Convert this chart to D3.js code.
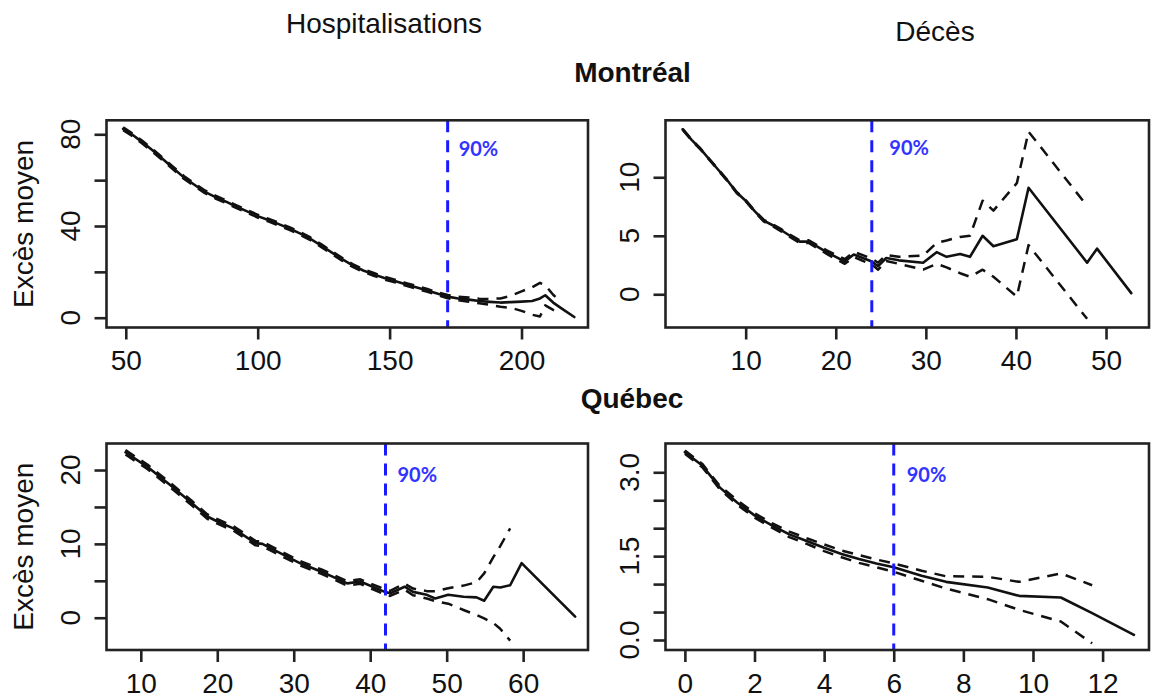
<!DOCTYPE html>
<html><head><meta charset="utf-8">
<script src="https://cdn.jsdelivr.net/npm/d3@7"></script>
<style>body{margin:0;background:#fff} svg{display:block}</style>
</head><body>
<svg id="c" width="1151" height="699"></svg>
<script>
// ---------- DATA ----------
// Montréal – Hospitalisations
const tlX = [49,52,56,60,64,68,72,76,80,84,88,92,96,100,104,108,112,116,120,124,128,132,136,140,144,148,152,156,160,164,168,172,176,180,184,188,192,196,200,204,207,209,212,215,220];
const tlMean = [82.4,80.2,76.8,73.1,69.2,65.2,61.2,58.0,54.9,52.6,50.6,48.4,46.4,44.3,42.6,40.8,38.9,36.8,34.4,31.5,28.5,25.5,22.8,20.6,18.9,17.3,16.0,14.6,13.3,12.0,10.6,9.2,8.4,7.9,7.3,6.9,6.6,6.8,7.0,7.3,8.4,9.8,6.6,4.2,0.3];
const tlUpper = [83.0,80.8,77.4,73.7,69.8,65.8,61.8,58.6,55.5,53.2,51.2,49.0,47.0,44.9,43.2,41.4,39.5,37.4,35.0,32.1,29.1,26.1,23.4,21.2,19.5,17.9,16.6,15.2,13.9,12.6,11.2,9.9,9.2,8.8,8.3,8.2,8.4,9.6,11.5,13.3,15.2,14.2,10.0,6.8,null];
const tlLower = [81.8,79.6,76.2,72.5,68.6,64.6,60.6,57.4,54.3,52.0,50.0,47.8,45.8,43.7,42.0,40.2,38.3,36.2,33.8,30.9,27.9,24.9,22.2,20.0,18.3,16.7,15.4,14.0,12.7,11.4,10.0,8.5,7.6,7.0,6.3,5.6,4.8,4.3,3.0,1.3,0.5,5.4,3.4,1.8,null];
const tlThreshold = 172;
const tlXTicks = [50,100,150,200];
const tlYTicks = [0,20,40,60,80];
const tlYLabels = [0,40,80];

// Montréal – Décès
const trX = [3,4,5,6,7,8,9,10,11,12,13,14,15,16,17,18,19,20,21,22,23,24,24.7,25.6,27,29.7,31.2,32.3,33.8,34.9,36.3,37.5,40.1,41.4,47.9,49.0,52.8];
const trMean = [14.1,13.2,12.4,11.5,10.6,9.7,8.7,8.0,7.1,6.3,5.9,5.45,4.96,4.5,4.5,4.05,3.6,3.2,2.8,3.4,3.1,2.8,2.4,3.1,2.9,2.7,3.6,3.2,3.45,3.2,5.0,4.1,4.7,9.1,2.7,3.9,0.1];
const trUpper = [14.14,13.24,12.44,11.54,10.64,9.74,8.75,8.05,7.16,6.37,5.98,5.54,5.06,4.62,4.62,4.18,3.75,3.38,3.0,3.62,3.34,3.05,2.7,3.35,3.2,3.3,4.4,4.6,4.9,5.0,8.0,7.15,9.5,13.9,7.55,null,null];
const trLower = [14.06,13.16,12.36,11.46,10.56,9.66,8.65,7.95,7.04,6.23,5.82,5.36,4.86,4.38,4.38,3.92,3.45,3.02,2.6,3.18,2.86,2.55,2.1,2.85,2.6,2.1,2.6,2.3,1.8,1.5,2.1,1.5,-0.2,4.2,-2.1,null,null];
const trThreshold = 24;
const trXTicks = [10,20,30,40,50];
const trYTicks = [0,5,10];
const trYLabels = [0,5,10];

// Québec – Hospitalisations
const blX = [8.0,10.9,13.8,16.7,18.7,20.1,22.1,25.0,25.9,28.3,30.8,33.7,37.0,38.7,41.9,42.6,44.5,45.6,47.4,48.5,50.2,52.2,53.9,54.9,56.1,57.0,58.3,59.8,66.8];
const blMean = [22.4,20.4,18.0,15.5,13.7,13.0,12.1,10.1,10.0,8.7,7.4,6.2,4.65,4.9,3.5,3.3,4.2,3.5,3.1,2.6,3.1,2.85,2.75,2.3,4.2,4.1,4.4,7.4,0.15];
const blUpper = [22.7,20.7,18.3,15.8,14.0,13.3,12.4,10.4,10.3,9.0,7.7,6.5,4.95,5.2,3.85,3.65,4.6,3.95,3.6,3.6,4.0,4.35,4.8,6.0,8.2,9.7,12.1,null,null];
const blLower = [22.1,20.1,17.7,15.2,13.4,12.7,11.8,9.8,9.7,8.4,7.1,5.9,4.35,4.6,3.15,2.95,3.8,3.05,2.6,2.25,1.9,1.05,0.37,-0.1,-0.7,-1.5,-3.1,null,null];
const blThreshold = 42;
const blXTicks = [10,20,30,40,50,60];
const blYTicks = [0,5,10,15,20];
const blYLabels = [0,10,20];

// Québec – Décès
const brX = [0.0,0.5,1.0,1.5,2.0,2.5,3.0,3.5,4.0,4.5,5.0,5.5,6.0,6.8,7.5,8.7,9.6,10.8,11.7,12.9];
const brMean = [3.36,3.12,2.73,2.46,2.23,2.05,1.89,1.77,1.65,1.54,1.45,1.37,1.30,1.15,1.04,0.94,0.79,0.76,0.48,0.09];
const brUpper = [3.39,3.15,2.76,2.50,2.27,2.09,1.94,1.82,1.71,1.60,1.52,1.44,1.37,1.24,1.14,1.13,1.04,1.19,0.98,null];
const brLower = [3.33,3.09,2.70,2.42,2.19,2.01,1.84,1.72,1.59,1.48,1.38,1.30,1.22,1.06,0.92,0.73,0.54,0.33,-0.06,null];
const brThreshold = 6;
const brXTicks = [0,2,4,6,8,10,12];
const brYTicks = [0,0.5,1,1.5,2,2.5,3];
const brYLabels = [0,1.5,3];

const thresholdLabel = "90%";
const colTitles = ["Hospitalisations", "Décès"];
const rowTitles = ["Montréal", "Québec"];
const yTitle = "Excès moyen";

// ---------- LAYOUT ----------
const FONT = "'Liberation Sans', Arial, Helvetica, sans-serif";
const panels = [
  {x: tlX, mean: tlMean, up: tlUpper, lo: tlLower, thr: tlThreshold, xt: tlXTicks, yt: tlYTicks, yl: tlYLabels,
   xd: [42.69, 225.2], yd: [-4.27, 86.1], box: [106.5, 588, 120.3, 327.5], labDx: 11, labY: 156, ytitle: true, fmt: d3.format("d")},
  {x: trX, mean: trMean, up: trUpper, lo: trLower, thr: trThreshold, xt: trXTicks, yt: trYTicks, yl: trYLabels,
   xd: [1.10, 54.77], yd: [-2.84, 14.87], box: [665.5, 1149, 120.3, 327.5], labDx: 17.5, labY: 155, ytitle: false, fmt: d3.format("d")},
  {x: blX, mean: blMean, up: blUpper, lo: blLower, thr: blThreshold, xt: blXTicks, yt: blYTicks, yl: blYLabels,
   xd: [5.515, 68.48], yd: [-4.37, 23.59], box: [106.5, 588, 443.5, 650], labDx: 12, labY: 482, ytitle: true, fmt: d3.format("d")},
  {x: brX, mean: brMean, up: brUpper, lo: brLower, thr: brThreshold, xt: brXTicks, yt: brYTicks, yl: brYLabels,
   xd: [-0.557, 13.333], yd: [-0.179, 3.515], box: [665.5, 1149, 443.5, 650], labDx: 13, labY: 482, ytitle: false, fmt: d3.format(".1f")}
];

const svg = d3.select("#c");
svg.append("rect").attr("width", 1151).attr("height", 699).attr("fill", "#fff");

// titles
svg.append("text").attr("x", 384).attr("y", 33).attr("text-anchor", "middle")
  .style("font-family", FONT).style("font-size", "28px").attr("fill", "#111").text(colTitles[0]);
svg.append("text").attr("x", 935).attr("y", 41).attr("text-anchor", "middle")
  .style("font-family", FONT).style("font-size", "28px").attr("fill", "#111").text(colTitles[1]);
svg.append("text").attr("x", 632.5).attr("y", 82).attr("text-anchor", "middle")
  .style("font-family", FONT).style("font-size", "28px").style("font-weight", "bold").attr("fill", "#111").text(rowTitles[0]);
svg.append("text").attr("x", 632).attr("y", 408).attr("text-anchor", "middle")
  .style("font-family", FONT).style("font-size", "28px").style("font-weight", "bold").attr("fill", "#111").text(rowTitles[1]);

panels.forEach(p => {
  const [L, R, T, B] = p.box;
  const xs = d3.scaleLinear().domain(p.xd).range([L, R]);
  const ys = d3.scaleLinear().domain(p.yd).range([B, T]);
  const g = svg.append("g");
  const line = d3.line().defined(d => d[1] != null).x(d => xs(d[0])).y(d => ys(d[1]));
  const pts = arr => p.x.map((v, i) => [v, arr[i]]);

  const clip = "clip" + Math.round(L) + Math.round(T);
  svg.append("clipPath").attr("id", clip).append("rect").attr("x", L).attr("y", T).attr("width", R - L).attr("height", B - T);
  const inner = g.append("g").attr("clip-path", `url(#${clip})`);

  [p.up, p.lo].forEach(arr => {
    inner.append("path").attr("d", line(pts(arr))).attr("fill", "none")
      .attr("stroke", "#111").attr("stroke-width", 2.5).attr("stroke-dasharray", "11,8")
      .attr("stroke-linejoin", "round");
  });
  inner.append("path").attr("d", line(pts(p.mean))).attr("fill", "none")
    .attr("stroke", "#111").attr("stroke-width", 2.6).attr("stroke-linejoin", "round").attr("stroke-linecap", "round");

  // threshold
  inner.append("line").attr("x1", xs(p.thr)).attr("x2", xs(p.thr)).attr("y1", T).attr("y2", B)
    .attr("stroke", "#1a1aff").attr("stroke-width", 3).attr("stroke-dasharray", "12,8");
  g.append("text").attr("x", xs(p.thr) + p.labDx).attr("y", p.labY)
    .style("font-family", "Lato, 'Open Sans', sans-serif").style("font-size", "20px").style("font-weight", "bold")
    .attr("fill", "#3333ff").text(thresholdLabel);

  // box
  g.append("rect").attr("x", L).attr("y", T).attr("width", R - L).attr("height", B - T)
    .attr("fill", "none").attr("stroke", "#222").attr("stroke-width", 2.6);

  // x axis
  const xa = d3.axisBottom(xs).tickValues(p.xt).tickSize(12).tickPadding(11).tickFormat(d3.format("d"));
  const gx = g.append("g").attr("transform", `translate(0,${B})`).call(xa);
  gx.select(".domain").remove();
  gx.selectAll(".tick line").attr("stroke", "#222").attr("stroke-width", 2.6);
  gx.selectAll(".tick text").style("font-family", FONT).style("font-size", "28px").attr("fill", "#111");

  // y axis
  const ya = d3.axisLeft(ys).tickValues(p.yt).tickSize(12).tickFormat("");
  const gy = g.append("g").attr("transform", `translate(${L},0)`).call(ya);
  gy.select(".domain").remove();
  gy.selectAll(".tick line").attr("stroke", "#222").attr("stroke-width", 2.6);
  g.selectAll(".ylab").data(p.yl).enter().append("text")
    .attr("transform", d => `translate(${L - 27},${ys(d)}) rotate(-90)`)
    .attr("text-anchor", "middle")
    .style("font-family", FONT).style("font-size", "28px").attr("fill", "#111")
    .text(d => p.fmt(d));

  if (p.ytitle) {
    g.append("text").attr("transform", `translate(33,${(T + B) / 2}) rotate(-90)`)
      .attr("text-anchor", "middle").style("font-family", FONT).style("font-size", "28px")
      .attr("fill", "#111").text(yTitle);
  }
});
</script>
</body></html>
